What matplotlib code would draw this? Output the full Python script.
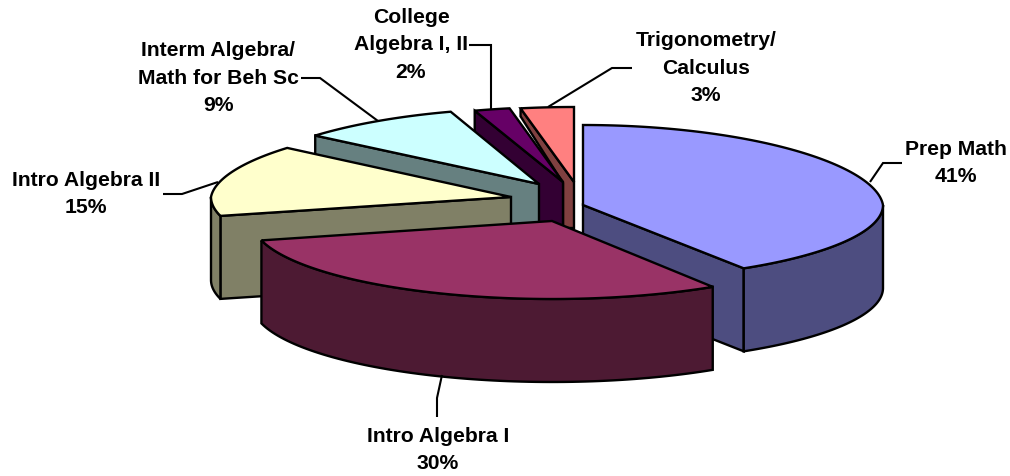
import numpy as np
import matplotlib
matplotlib.use("Agg")
import matplotlib.pyplot as plt
from matplotlib.patches import Polygon

plt.rcParams['font.family'] = ['Liberation Sans', 'DejaVu Sans']

# data
names = ["Prep Math", "Intro Algebra I", "Intro Algebra II",
         "Interm Algebra/\nMath for Beh Sc", "College\nAlgebra I, II", "Trigonometry/\nCalculus"]
values = [41, 30, 15, 9, 2, 3]
top_colors = ["#9999FF", "#993366", "#FFFFCC", "#CCFFFF", "#660066", "#FF8080"]
side_colors = ["#4D4D80", "#4D1A33", "#808066", "#668080", "#330033", "#804040"]

# layout, in pixels of the 1010x476 picture
apex_x = [583, 552, 511, 539, 563, 574]
apex_y = [205, 221, 197, 184, 182, 182]
label_x = [956, 438, 86, 218, 411, 706]
label_y = [163, 450, 194, 78, 45, 68]
leader_x = [[870, 883, 902], [442, 437, 437], [218, 182, 163],
            [378, 320, 301], [491, 491, 469], [548, 612, 632]]
leader_y = [[182, 163, 163], [375, 398, 417], [182, 194, 194],
            [121, 78, 78], [110, 45, 45], [107, 68, 68]]
draw_order = [5, 4, 3, 2, 0, 1]
rx = 300
ry_back = [80, 77, 77, 76, 75, 75]
ry_front = [75, 78, 76, 76, 76, 76]
far_shrink = 0.05
depth = 83
lw = 1.7

fig = plt.figure(figsize=(10.10, 4.76), dpi=100)
ax = fig.add_axes([0, 0, 1, 1])
ax.set_xlim(0, 1010)
ax.set_ylim(476, 0)
ax.axis("off")

edges = np.cumsum([0] + values) / sum(values) * 360.0


def rim(i, t):
    r = np.radians(t)
    c = np.cos(r)
    # far side of the pie is a little narrower (perspective)
    x = apex_x[i] + rx * (1 - far_shrink * np.maximum(c, 0)) * np.sin(r)
    y = apex_y[i] - np.where(c > 0, ry_back[i], ry_front[i]) * c
    return x, y


def poly(xs, ys, color, z):
    ax.add_patch(Polygon(np.column_stack([xs, ys]), closed=True, facecolor=color,
                         edgecolor="black", linewidth=lw, joinstyle="miter", zorder=z))


for z, i in enumerate(draw_order):
    a, b = edges[i], edges[i + 1]
    z = z * 10

    # cut face on the start side (front facing for the left half)
    if 180 < a < 360:
        x0, y0 = rim(i, a)
        if i == 5:
            # the trig face is nearly edge on, only a thin band shows
            poly([x0, apex_x[i], apex_x[i], apex_x[i] - 11, apex_x[i] - 11, x0],
                 [y0, apex_y[i], apex_y[i] + 46, apex_y[i] + 46, apex_y[i] + 1, y0 + 8],
                 side_colors[i], z)
        else:
            poly([x0, apex_x[i], apex_x[i], x0],
                 [y0, apex_y[i], apex_y[i] + depth, y0 + depth], side_colors[i], z)

    # cut face on the end side
    if 0 < b < 180:
        x0, y0 = rim(i, b)
        poly([x0, apex_x[i], apex_x[i], x0],
             [y0, apex_y[i], apex_y[i] + depth, y0 + depth], side_colors[i], z)

    # outer wall, only the part facing us
    lo, hi = max(a, 90), min(b, 270)
    if lo < hi:
        t = np.linspace(lo, hi, 80)
        xs, ys = rim(i, t)
        poly(np.r_[xs, xs[::-1]], np.r_[ys, ys[::-1] + depth], side_colors[i], z + 1)

    # top
    t = np.linspace(a, b, 120)
    xs, ys = rim(i, t)
    poly(np.r_[apex_x[i], xs], np.r_[apex_y[i], ys], top_colors[i], z + 2)

for i in range(len(values)):
    ax.plot(leader_x[i], leader_y[i], color="black", lw=1.5, zorder=100,
            solid_joinstyle="miter", solid_capstyle="butt")
    ax.text(label_x[i], label_y[i], names[i] + "\n" + str(values[i]) + "%",
            ha="center", va="center", fontsize=15.2, fontweight="bold",
            linespacing=1.55, color="black", zorder=101)

fig.savefig("out.png", dpi=100, facecolor="white")
